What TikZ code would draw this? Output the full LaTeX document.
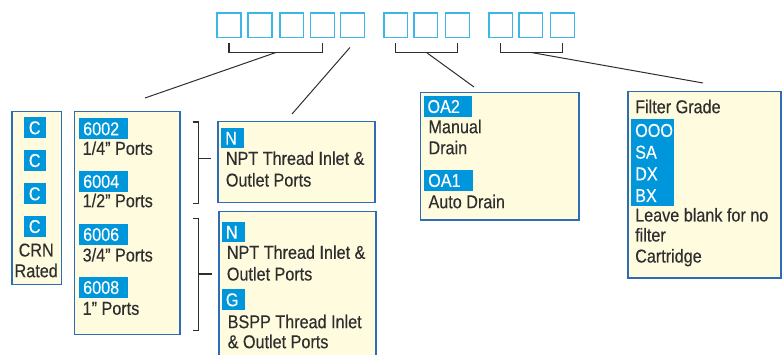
\documentclass[tikz,border=0pt]{standalone}
\usepackage{fontspec}
\setmainfont{Liberation Sans}[FakeStretch=0.87, FakeBold=0.3]
\usetikzlibrary{positioning}
\definecolor{tagblue}{HTML}{0096DB}
\definecolor{edgeblue}{HTML}{2E6DB4}
\definecolor{slotblue}{HTML}{3DB5E6}
\definecolor{paper}{HTML}{FFFBDF}
\definecolor{ink}{HTML}{2E2E2E}

\begin{document}
\begin{tikzpicture}[
    x=1pt, y=-1pt,
    font=\fontsize{18.6}{21}\selectfont,
    slot/.style={draw=slotblue, line width=1.5pt, minimum width=23.8pt, minimum height=24.1pt, anchor=north west, inner sep=0pt},
    panel/.style={draw=edgeblue, line width=1.2pt, fill=paper, anchor=north west, inner sep=0pt},
    tag/.style={fill=tagblue, text=white, anchor=north west, inner xsep=4pt, inner ysep=0pt, minimum height=20.5pt, text height=13pt, text depth=0pt, align=left, text width=#1},
    ctag/.style={tag=#1, align=center},
    txt/.style={anchor=base west, inner sep=0pt, text=ink},
    bracket/.style={draw=ink, line width=1.3pt},
    wire/.style={draw=ink, line width=1pt}
]
    \useasboundingbox (0,0) rectangle (782,355);

    % Code slots
    \foreach \x [count=\i] in {215.7,246.7,278.3,309,339,382.3,412.3,444,487.3,517.3,549}
        \node[slot] (sq\i) at (\x+0.75,12.45) {};

    % Panels
    \node[panel, minimum width=49.8pt, minimum height=172.4pt] (crn) at (11.3,111.3) {};
    \node[panel, minimum width=105.5pt, minimum height=222.4pt] (ports) at (73.9,111.3) {};
    \node[panel, minimum width=157.1pt, minimum height=80.4pt] (npt) at (217.3,121.3) {};
    \node[panel, minimum width=157.1pt, minimum height=150pt] (thread) at (218.3,211.3) {};
    \node[panel, minimum width=158.5pt, minimum height=127.8pt] (drain) at (419.9,91.6) {};
    \node[panel, minimum width=153pt, minimum height=186.8pt] (filter) at (627.3,90.6) {};

    % CRN rated
    \node[ctag=14.4pt] (c1) at (23.3,117.3) {C};
    \node[ctag=14.4pt] (c2) at (23.3,150) {C};
    \node[ctag=14.4pt] (c3) at (23.3,183.3) {C};
    \node[ctag=14.4pt] (c4) at (23.3,216) {C};
    \node[txt, anchor=base] (crnA) at (36.2,256.5) {CRN};
    \node[txt, anchor=base] (crnB) at (36.2,277.2) {Rated};

    % Port sizes
    \node[tag=40.7pt] (p6002) at (79,118.3) {6002};
    \node[txt] (p6002t) at (82.5,154.8) {1/4” Ports};
    \node[tag=40.7pt] (p6004) at (79,171) {6004};
    \node[txt] (p6004t) at (82.5,207.2) {1/2” Ports};
    \node[tag=40.7pt] (p6006) at (79,224) {6006};
    \node[txt] (p6006t) at (82.5,261.5) {3/4” Ports};
    \node[tag=40.7pt] (p6008) at (79,277) {6008};
    \node[txt] (p6008t) at (82.5,314.8) {1” Ports};

    % Thread types
    \node[tag=15pt] (n1) at (221,127.7) {N};
    \node[txt] (n1a) at (225.7,164.8) {NPT Thread Inlet \&};
    \node[txt] (n1b) at (225.7,186.5) {Outlet Ports};
    \node[tag=15pt] (n2) at (221.7,221.7) {N};
    \node[txt] (n2a) at (226.7,258.8) {NPT Thread Inlet \&};
    \node[txt] (n2b) at (226.7,280.5) {Outlet Ports};
    \node[tag=15pt] (g2) at (221.7,289.3) {G};
    \node[txt] (g2a) at (227.5,328.2) {BSPP Thread Inlet};
    \node[txt] (g2b) at (227.5,348.2) {\& Outlet Ports};

    % Drains
    \node[tag=40.4pt] (oa2) at (423.3,96) {OA2};
    \node[txt] (oa2a) at (428.3,133.2) {Manual};
    \node[txt] (oa2b) at (428.3,154.2) {Drain};
    \node[tag=40.4pt] (oa1) at (424,170) {OA1};
    \node[txt] (oa1a) at (428.3,208.2) {Auto Drain};

    % Filter grades
    \node[txt] (fg) at (635,113.2) {Filter Grade};
    \node[tag=35pt, minimum height=21.8pt] (f1) at (631,119.3) {OOO};
    \node[tag=35pt, minimum height=21.8pt, below=-0.5pt of f1.south west, anchor=north west] (f2) {SA};
    \node[tag=35pt, minimum height=21.8pt, below=-0.5pt of f2.south west, anchor=north west] (f3) {DX};
    \node[tag=35pt, minimum height=21.8pt, below=-0.5pt of f3.south west, anchor=north west] (f4) {BX};
    \node[txt] (fa) at (635,221.5) {Leave blank for no};
    \node[txt] (fb) at (635,241.5) {filter};
    \node[txt] (fc) at (635,262.5) {Cartridge};

    % Brackets under the slots
    \draw[bracket] ([yshift=-5pt]sq1.south) -- ([yshift=-14.5pt]sq1.south)
        -- coordinate[midway] (grp1) ([yshift=-14.5pt]sq4.south) -- ([yshift=-5pt]sq4.south);
    \draw[bracket] ([yshift=-5pt]sq6.south) -- ([yshift=-14.5pt]sq6.south)
        -- coordinate[midway] (grp2) ([yshift=-14.5pt]sq8.south) -- ([yshift=-5pt]sq8.south);
    \draw[bracket] ([yshift=-5pt]sq9.south) -- ([yshift=-14.5pt]sq9.south)
        -- coordinate[midway] (grp3) ([yshift=-14.5pt]sq11.south) -- ([yshift=-5pt]sq11.south);
    \coordinate (tail5) at ([xshift=-2.5pt, yshift=-9.5pt]sq5.south);

    % Leader lines
    \coordinate (end1) at (145,98);
    \coordinate (end2) at (292,114);
    \coordinate (end3) at (474,87);
    \coordinate (end4) at (703,83);
    \draw[wire] (grp1) -- (end1);
    \draw[wire] (tail5) -- (end2);
    \draw[wire] (grp2) -- (end3);
    \draw[wire] (grp3) -- (end4);

    % Brackets joining ports to threads
    \coordinate (k1) at (198.3,158.3);
    \coordinate (k2) at (198.3,274);
    \draw[bracket] (192.7,122) -- (198.3,122) -- (198.3,203.3) -- (192.7,203.3);
    \draw[bracket] (192.7,218.3) -- (198.3,218.3) -- (198.3,330.7) -- (192.7,330.7);
    \draw[bracket] (k1) -- ([xshift=12.4pt]k1);
    \draw[bracket] (k2) -- ([xshift=14pt]k2);
\end{tikzpicture}
\end{document}
